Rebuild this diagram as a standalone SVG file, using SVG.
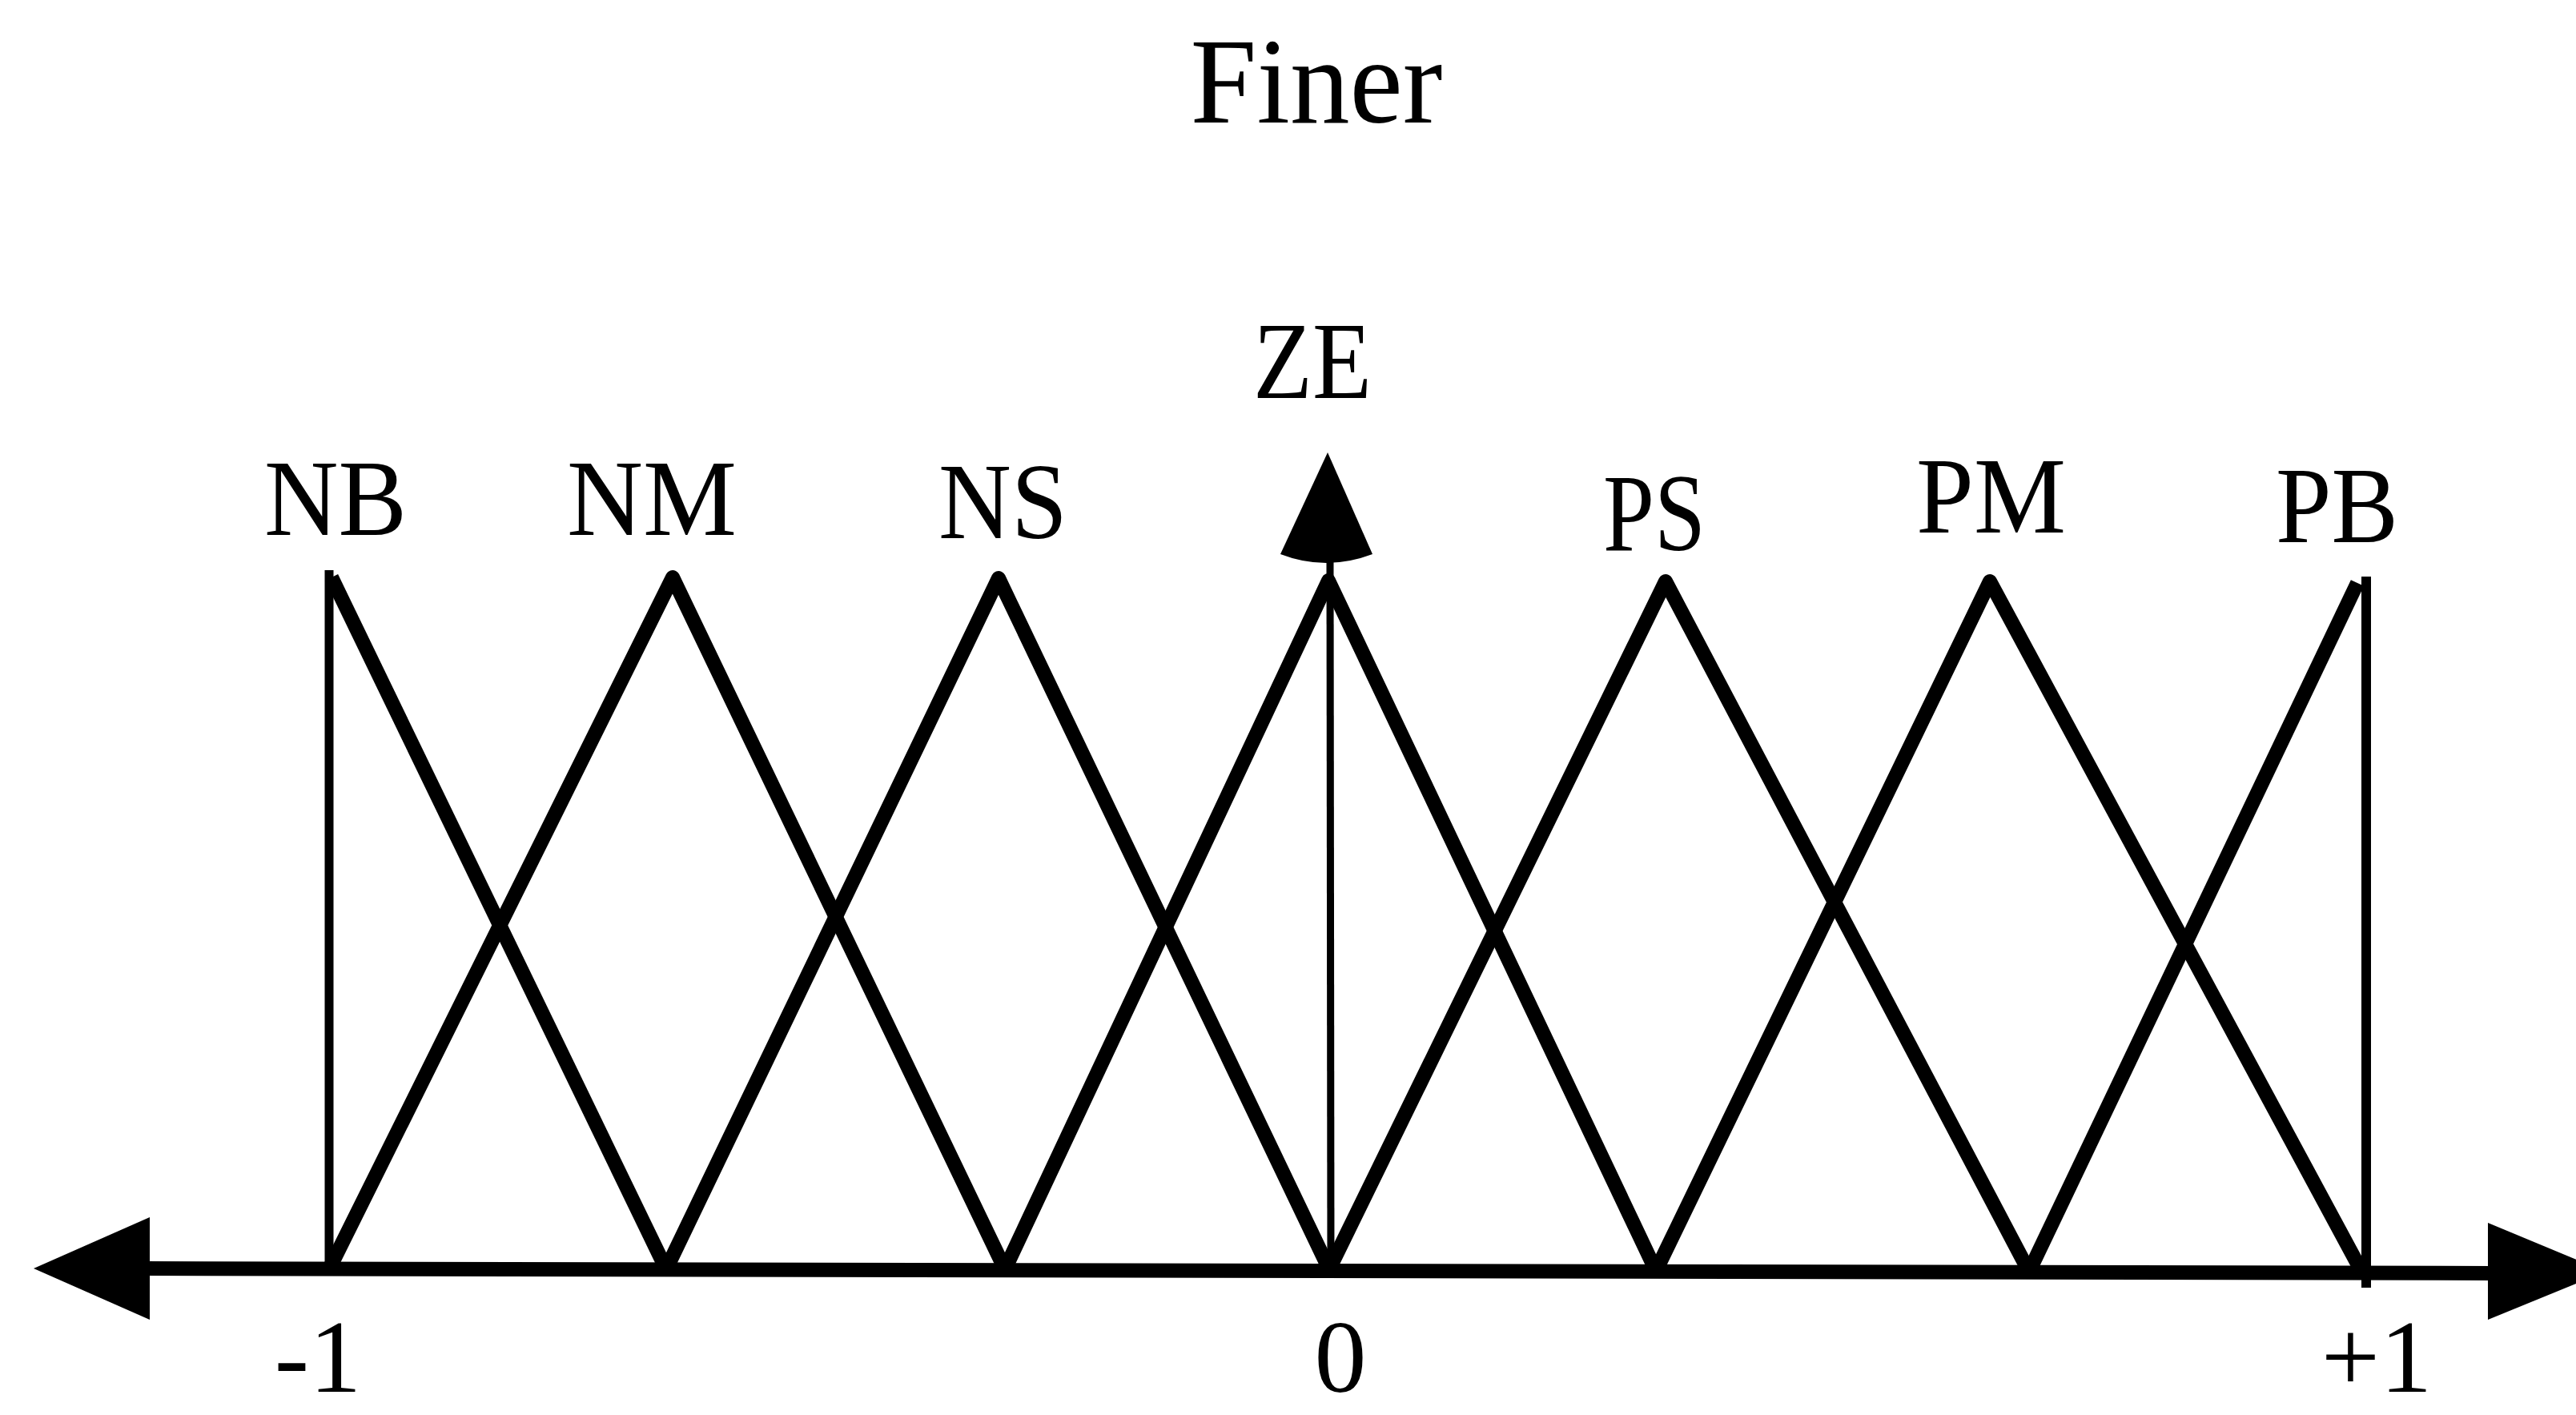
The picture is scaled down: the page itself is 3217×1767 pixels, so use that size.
<svg xmlns="http://www.w3.org/2000/svg" width="3217" height="1767" viewBox="0 0 3217 1767">
  <style>
    .lbl { font-family: "Liberation Serif", "Times New Roman", serif; fill: #000; }
    .mf { fill: none; stroke: #000; stroke-width: 18; stroke-linejoin: round; stroke-linecap: butt; }
    .vert { fill: none; stroke: #000; stroke-width: 11; }
    .axis { fill: none; stroke: #000; stroke-width: 18; }
    .head { fill: #000; stroke: none; }
  </style>
  <rect width="3217" height="1767" fill="#fff"/>

  <g id="title">
    <text class="lbl" x="1644" y="153" font-size="152" text-anchor="middle" textLength="315" lengthAdjust="spacingAndGlyphs">Finer</text>
  </g>

  <g id="connectors">
    <line class="axis" x1="180" y1="1584" x2="3112" y2="1590"/>
    <path class="head" d="M42,1584 L187,1520 L187,1648 Z"/>
    <path class="head" d="M3254,1588 L3107,1527 L3107,1648 Z"/>
    <line class="vert" x1="1661" y1="695" x2="1662" y2="1585" style="stroke-width:9"/>
    <path class="head" d="M1658,565 L1714,692 Q1656,714 1599,692 Z"/>
  </g>

  <g id="set-NB">
    <line class="vert" x1="411" y1="712" x2="411" y2="1585"/>
    <polyline class="mf" points="414,721 832,1585"/>
    <text class="lbl" x="330" y="668" font-size="136" textLength="178" lengthAdjust="spacingAndGlyphs">NB</text>
  </g>

  <g id="set-NM">
    <polyline class="mf" points="411,1585 840,721 1255,1585"/>
    <text class="lbl" x="708" y="668" font-size="136" textLength="212" lengthAdjust="spacingAndGlyphs">NM</text>
  </g>

  <g id="set-NS">
    <polyline class="mf" points="832,1585 1247,722 1660,1585"/>
    <text class="lbl" x="1172" y="672" font-size="136" textLength="161" lengthAdjust="spacingAndGlyphs">NS</text>
  </g>

  <g id="set-ZE">
    <polyline class="mf" points="1255,1585 1659,725 2068,1587"/>
    <text class="lbl" x="1565" y="497" font-size="138" textLength="148" lengthAdjust="spacingAndGlyphs">ZE</text>
  </g>

  <g id="set-PS">
    <polyline class="mf" points="1660,1585 2080,726 2534,1588"/>
    <text class="lbl" x="2002" y="687" font-size="138" textLength="128" lengthAdjust="spacingAndGlyphs">PS</text>
  </g>

  <g id="set-PM">
    <polyline class="mf" points="2068,1587 2485,726 2950,1589"/>
    <text class="lbl" x="2393" y="665" font-size="136" textLength="187" lengthAdjust="spacingAndGlyphs">PM</text>
  </g>

  <g id="set-PB">
    <polyline class="mf" points="2534,1588 2944,728"/>
    <line class="vert" x1="2955" y1="720" x2="2955" y2="1608" style="stroke-width:12"/>
    <text class="lbl" x="2842" y="677" font-size="136" textLength="153" lengthAdjust="spacingAndGlyphs">PB</text>
  </g>

  <g id="ticks">
    <text class="lbl" x="397" y="1738" font-size="130" text-anchor="middle">-1</text>
    <text class="lbl" x="1674" y="1738" font-size="130" text-anchor="middle">0</text>
    <text class="lbl" x="2968" y="1738" font-size="130" text-anchor="middle">+1</text>
  </g>
</svg>
